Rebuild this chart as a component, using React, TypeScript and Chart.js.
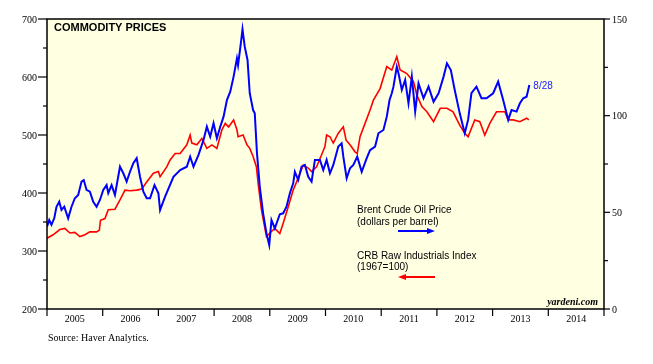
import { useEffect, useRef } from 'react';
import { Chart, registerables } from 'chart.js';

Chart.register(...registerables);

// Brent crude oil price, dollars per barrel (right axis)
const brentYears = [
  2005.00, 2005.04, 2005.08, 2005.13, 2005.17, 2005.22, 2005.26, 2005.31, 2005.38, 2005.44, 2005.50, 2005.56,
  2005.62, 2005.66, 2005.71, 2005.77, 2005.83, 2005.89, 2005.95,
  2006.01, 2006.07, 2006.10, 2006.16, 2006.22, 2006.31, 2006.37, 2006.43, 2006.49, 2006.55, 2006.61, 2006.67,
  2006.73, 2006.79, 2006.85, 2006.93,
  2007.00, 2007.03, 2007.12, 2007.27, 2007.39, 2007.51, 2007.57, 2007.63, 2007.72, 2007.81, 2007.87, 2007.93, 2007.99,
  2008.05, 2008.11, 2008.17, 2008.23, 2008.29, 2008.35, 2008.41, 2008.43, 2008.48, 2008.51, 2008.55, 2008.60,
  2008.64, 2008.70, 2008.73, 2008.77, 2008.82, 2008.88, 2008.94, 2008.99,
  2009.03, 2009.09, 2009.18, 2009.24, 2009.30, 2009.36, 2009.42, 2009.45, 2009.51, 2009.57, 2009.63, 2009.69,
  2009.75, 2009.81, 2009.90, 2009.96,
  2010.02, 2010.08, 2010.14, 2010.23, 2010.29, 2010.32, 2010.38, 2010.44, 2010.50, 2010.57, 2010.65, 2010.74,
  2010.80, 2010.89, 2010.95,
  2011.04, 2011.10, 2011.15, 2011.19, 2011.22, 2011.28, 2011.31, 2011.37, 2011.43, 2011.49, 2011.55, 2011.61,
  2011.67, 2011.76, 2011.85, 2011.94,
  2012.03, 2012.12, 2012.18, 2012.25, 2012.32, 2012.41, 2012.50, 2012.56, 2012.62, 2012.71, 2012.80, 2012.89,
  2013.01, 2013.10, 2013.19, 2013.28, 2013.34, 2013.43, 2013.49, 2013.55, 2013.61, 2013.66,
];
const brentValues = [
  42.6, 46.0, 43.5, 46.9, 52.9, 55.5, 51.2, 52.9, 46.9, 52.9, 57.3, 59.0,
  65.9, 66.7, 61.6, 60.7, 55.5, 52.9, 56.4,
  61.6, 64.1, 59.9, 64.1, 59.0, 73.6, 70.2, 65.9, 71.0, 75.4, 78.0, 68.4,
  60.7, 57.3, 57.3, 64.1,
  59.9, 51.2, 58.1, 68.4, 71.9, 73.6, 78.8, 73.6, 79.7, 87.4, 94.3, 89.1, 96.1,
  88.3, 94.3, 99.5, 108.1, 112.4, 120.2, 129.7, 126.2, 137.4, 144.7, 135.7, 128.8,
  111.6, 102.9, 101.2, 80.5, 63.3, 49.5, 39.2, 33.1,
  46.0, 41.7, 49.0, 49.5, 52.9, 59.9, 65.0, 71.0, 66.7, 73.6, 74.5, 68.4,
  65.9, 77.1, 77.1, 71.9,
  77.1, 70.2, 74.5, 84.0, 85.7, 78.8, 67.6, 72.8, 74.5, 78.8, 71.0, 78.0,
  82.2, 84.0, 90.9,
  92.6, 99.5, 108.1, 111.6, 115.0, 125.3, 122.0, 113.3, 118.5, 106.4, 120.2, 102.1,
  116.7, 109.0, 115.0, 107.2,
  111.6, 120.2, 127.1, 123.6, 113.3, 101.2, 90.9, 97.8, 111.6, 115.0, 109.0, 109.0,
  111.6, 117.6, 108.1, 97.8, 102.9, 102.1, 106.4, 109.0, 109.8, 115.9,
];

// CRB raw industrials index, 1967=100 (left axis)
const crbYears = [
  2005.00, 2005.11, 2005.23, 2005.32, 2005.41, 2005.50, 2005.59, 2005.68, 2005.77, 2005.89, 2005.94, 2005.96,
  2006.04, 2006.10, 2006.22, 2006.31, 2006.40, 2006.49, 2006.61, 2006.70, 2006.79, 2006.91,
  2007.00, 2007.03, 2007.15, 2007.21, 2007.30, 2007.39, 2007.51, 2007.57, 2007.60, 2007.69, 2007.78, 2007.87, 2007.96,
  2008.05, 2008.14, 2008.20, 2008.26, 2008.35, 2008.41, 2008.43, 2008.52, 2008.59, 2008.64, 2008.70, 2008.76,
  2008.79, 2008.85, 2008.94,
  2009.00, 2009.09, 2009.18, 2009.24, 2009.33, 2009.42, 2009.48, 2009.60, 2009.69, 2009.75, 2009.84, 2009.93, 2009.99,
  2010.02, 2010.08, 2010.14, 2010.23, 2010.32, 2010.37, 2010.44, 2010.53, 2010.57, 2010.62, 2010.71, 2010.80,
  2010.86, 2010.98,
  2011.10, 2011.19, 2011.28, 2011.34, 2011.46, 2011.58, 2011.64, 2011.73, 2011.82, 2011.94,
  2012.06, 2012.18, 2012.29, 2012.41, 2012.50, 2012.56, 2012.68, 2012.77, 2012.86, 2012.95,
  2013.07, 2013.22, 2013.28, 2013.37, 2013.49, 2013.61, 2013.65,
];
const crbValues = [
  322, 328, 337, 339, 331, 332, 325, 328, 333, 333, 336, 353,
  356, 371, 372, 388, 405, 404, 405, 407, 419, 434,
  437, 428, 445, 457, 468, 468, 483, 500, 486, 483, 494, 477, 483,
  477, 509, 520, 514, 526, 509, 497, 500, 483, 477, 463, 445,
  417, 371, 325,
  331, 339, 330, 348, 376, 405, 419, 448, 443, 437, 445, 466, 480,
  500, 497, 486, 503, 514, 491, 483, 471, 468, 497, 520, 543,
  560, 580,
  618, 612, 635, 612, 606, 592, 569, 549, 540, 523,
  546, 546, 540, 517, 503, 497, 526, 523, 500, 520,
  540, 540, 526, 526, 523, 529, 526,
];

const yearLabels = ['2005', '2006', '2007', '2008', '2009', '2010', '2011', '2012', '2013', '2014'];
const leftTicks = [200, 300, 400, 500, 600, 700];
const rightTicks = [0, 50, 100, 150];
const lastDateLabel = '8/28';

const SERIF = '"Liberation Serif", "Times New Roman", serif';
const SANS = '"Liberation Sans", Arial, sans-serif';

const decorPlugin = {
  id: 'decor',
  beforeDatasetsDraw(chart: any) {
    const { ctx, chartArea: a } = chart;
    ctx.save();
    ctx.fillStyle = '#FFFFE2';
    ctx.fillRect(a.left, a.top, a.right - a.left, a.bottom - a.top);
    ctx.restore();
  },
  afterDatasetsDraw(chart: any) {
    const { ctx, chartArea: a, scales } = chart;
    const xs = scales.x;
    const yl = scales.y;
    const yr = scales.y1;
    ctx.save();

    // frame
    ctx.strokeStyle = '#000';
    ctx.lineWidth = 1.5;
    ctx.strokeRect(a.left, a.top, a.right - a.left, a.bottom - a.top);

    ctx.lineWidth = 1.2;
    // left ticks
    for (let i = 0; i < leftTicks.length; i++) {
      const v = leftTicks[i];
      const y = yl.getPixelForValue(v);
      ctx.beginPath(); ctx.moveTo(a.left - 9, y); ctx.lineTo(a.left, y); ctx.stroke();
      if (i < leftTicks.length - 1) {
        const ym = yl.getPixelForValue((v + leftTicks[i + 1]) / 2);
        ctx.beginPath(); ctx.moveTo(a.left - 4, ym); ctx.lineTo(a.left, ym); ctx.stroke();
      }
    }
    ctx.fillStyle = '#000';
    ctx.font = '10px ' + SERIF;
    ctx.textAlign = 'right';
    ctx.textBaseline = 'middle';
    leftTicks.forEach((v) => ctx.fillText(String(v), a.left - 10, yl.getPixelForValue(v) + 1));

    // right ticks
    for (let i = 0; i < rightTicks.length; i++) {
      const v = rightTicks[i];
      const y = yr.getPixelForValue(v);
      ctx.beginPath(); ctx.moveTo(a.right, y); ctx.lineTo(a.right + 6, y); ctx.stroke();
      if (i < rightTicks.length - 1) {
        const ym = yr.getPixelForValue((v + rightTicks[i + 1]) / 2);
        ctx.beginPath(); ctx.moveTo(a.right, ym); ctx.lineTo(a.right + 4, ym); ctx.stroke();
      }
    }
    ctx.textAlign = 'left';
    rightTicks.forEach((v) => ctx.fillText(String(v), a.right + 8, yr.getPixelForValue(v) + 1));

    // bottom ticks and year labels
    for (let i = 0; i <= yearLabels.length; i++) {
      const x = xs.getPixelForValue(2005 + i);
      ctx.beginPath(); ctx.moveTo(x, a.bottom); ctx.lineTo(x, a.bottom + 7); ctx.stroke();
    }
    ctx.textAlign = 'center';
    yearLabels.forEach((lab) => {
      const x = xs.getPixelForValue(Number(lab) + 0.5);
      ctx.fillText(lab, x, a.bottom + 10);
    });

    // title
    ctx.textAlign = 'left';
    ctx.font = 'bold 11px ' + SANS;
    ctx.fillText('COMMODITY PRICES', a.left + 7, a.top + 9);

    // last date label
    const lx = xs.getPixelForValue(brentYears[brentYears.length - 1]);
    const ly = yr.getPixelForValue(brentValues[brentValues.length - 1]);
    ctx.font = '10px ' + SANS;
    ctx.fillStyle = '#2020FF';
    ctx.fillText(lastDateLabel, lx + 4, ly + 1);

    // legend
    ctx.fillStyle = '#000';
    ctx.font = '10px ' + SANS;
    const tx = a.left + 310;
    ctx.fillText('Brent Crude Oil Price', tx, a.top + 191);
    ctx.fillText('(dollars per barrel)', tx, a.top + 203);
    ctx.fillText('CRB Raw Industrials Index', tx, a.top + 237);
    ctx.fillText('(1967=100)', tx, a.top + 248);

    // blue arrow to the right
    ctx.strokeStyle = '#0000FF';
    ctx.fillStyle = '#0000FF';
    ctx.lineWidth = 2;
    const ay1 = a.top + 212;
    ctx.beginPath(); ctx.moveTo(tx + 41, ay1); ctx.lineTo(tx + 72, ay1); ctx.stroke();
    ctx.beginPath(); ctx.moveTo(tx + 78, ay1); ctx.lineTo(tx + 70, ay1 - 3); ctx.lineTo(tx + 70, ay1 + 3); ctx.closePath(); ctx.fill();

    // red arrow to the left
    ctx.strokeStyle = '#FF0000';
    ctx.fillStyle = '#FF0000';
    const ay2 = a.top + 258;
    ctx.beginPath(); ctx.moveTo(tx + 47, ay2); ctx.lineTo(tx + 78, ay2); ctx.stroke();
    ctx.beginPath(); ctx.moveTo(tx + 41, ay2); ctx.lineTo(tx + 49, ay2 - 3); ctx.lineTo(tx + 49, ay2 + 3); ctx.closePath(); ctx.fill();

    // watermark
    ctx.fillStyle = '#000';
    ctx.font = 'italic bold 10px ' + SERIF;
    ctx.textAlign = 'right';
    ctx.fillText('yardeni.com', a.right - 6, a.bottom - 7);

    // source
    ctx.textAlign = 'left';
    ctx.font = '10px ' + SERIF;
    ctx.fillText('Source: Haver Analytics.', a.left + 1, a.bottom + 29);

    ctx.restore();
  },
};

export default function App() {
  const ref = useRef<HTMLCanvasElement | null>(null);
  useEffect(() => {
    document.body.style.margin = '0';
    const canvas = ref.current;
    if (!canvas) return;
    const chart = new Chart(canvas, {
      type: 'line',
      data: {
        datasets: [
          {
            label: 'Brent Crude Oil Price',
            data: brentYears.map((x, i) => ({ x, y: brentValues[i] })),
            yAxisID: 'y1',
            borderColor: '#0000FF',
            borderWidth: 2,
            pointRadius: 0,
            tension: 0,
          },
          {
            label: 'CRB Raw Industrials Index',
            data: crbYears.map((x, i) => ({ x, y: crbValues[i] })),
            yAxisID: 'y',
            borderColor: '#FF0000',
            borderWidth: 1.6,
            pointRadius: 0,
            tension: 0,
          },
        ],
      },
      options: {
        animation: false,
        responsive: false,
        devicePixelRatio: 1,
        layout: { padding: { left: 47, right: 49, top: 19, bottom: 55 } },
        plugins: { legend: { display: false }, tooltip: { enabled: false }, title: { display: false } },
        scales: {
          x: { type: 'linear', min: 2005, max: 2015, display: false },
          y: { type: 'linear', min: 200, max: 700, display: false },
          y1: { type: 'linear', min: 0, max: 150, display: false, position: 'right' },
        },
      },
      plugins: [decorPlugin],
    });
    return () => chart.destroy();
  }, []);
  return <canvas ref={ref} width={653} height={364} style={{ display: 'block' }} />;
}
